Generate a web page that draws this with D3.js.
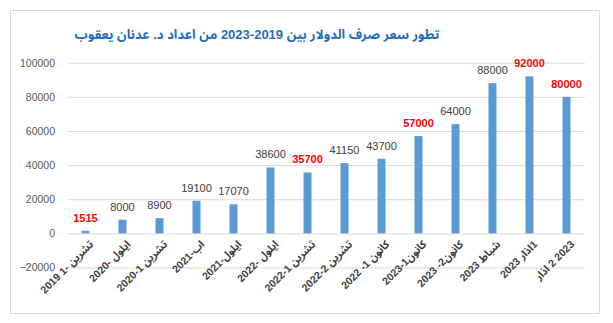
<!DOCTYPE html>
<html>
<head>
<meta charset="utf-8">
<script src="https://cdn.jsdelivr.net/npm/d3@7/dist/d3.min.js"></script>
<style>
  html, body { margin: 0; padding: 0; background: #fff; }
  svg { display: block; }
</style>
</head>
<body>
<svg id="chart" width="613" height="323"></svg>
<script>
// Dollar exchange rate by period
const categories = [
  "2019 1- تشرين",
  "2020- ايلول",
  "2020-1 تشرين",
  "2021-اب",
  "2021-ايلول",
  "2022- ايلول",
  "2022-1 تشرين",
  "2022-2 تشرين",
  "2022 -1 كانون",
  "2023-1كانون",
  "2023 -2كانون",
  "2023 شباط",
  "2023 اذار\u200E1",
  "اذار\u200E 2 2023"
];
const values = [1515, 8000, 8900, 19100, 17070, 38600, 35700, 41150, 43700, 57000, 64000, 88000, 92000, 80000];
// labels printed in red
const highlighted = [true, false, false, false, false, false, true, false, false, true, false, false, true, true];
const yTicks = [-20000, 0, 20000, 40000, 60000, 80000, 100000];
const title = "تطور سعر صرف الدولار بين 2019-2023 من اعداد د. عدنان يعقوب";

const fontStack = "'Liberation Sans', Arial, 'Noto Sans Arabic', 'Noto Naskh Arabic', 'DejaVu Sans', sans-serif";
const svg = d3.select("#chart");

// outer frame
svg.append("rect")
  .attr("x", 10.5).attr("y", 10.5)
  .attr("width", 589).attr("height", 303)
  .attr("fill", "#fff").attr("stroke", "#d9d9d9").attr("stroke-width", 1);

const x = d3.scaleBand()
  .domain(d3.range(categories.length))
  .range([67, 585])
  .paddingInner(0.784)
  .paddingOuter(0.392);

const y = d3.scaleLinear()
  .domain([-20000, 100000])
  .range([267.5, 62.7]);

// gridlines + y labels
const yAxis = d3.axisLeft(y)
  .tickValues(yTicks)
  .tickSize(-(585 - 67))
  .tickPadding(12)
  .tickFormat(d3.format("d"));

const gy = svg.append("g")
  .attr("transform", "translate(67,0)")
  .call(yAxis);
gy.select(".domain").remove();
gy.selectAll(".tick line").attr("stroke", "#d9d9d9").attr("stroke-width", 1);
gy.selectAll(".tick text")
  .attr("fill", "#595959")
  .style("font-family", fontStack)
  .style("font-size", "10.5px");

// bars
svg.append("g").selectAll("rect")
  .data(values)
  .join("rect")
  .attr("x", (d, i) => x(i))
  .attr("width", x.bandwidth())
  .attr("y", d => y(Math.max(0, d)))
  .attr("height", d => Math.abs(y(d) - y(0)))
  .attr("fill", "#5b9bd5");

// value labels
svg.append("g").selectAll("text")
  .data(values)
  .join("text")
  .attr("x", (d, i) => x(i) + x.bandwidth() / 2)
  .attr("y", d => y(d) - 9)
  .attr("text-anchor", "middle")
  .attr("fill", (d, i) => highlighted[i] ? "#ff0000" : "#404040")
  .style("font-family", fontStack)
  .style("font-size", "11px")
  .style("font-weight", (d, i) => highlighted[i] ? "bold" : "normal")
  .text(d => d);

// category labels, rotated
const xAxis = d3.axisBottom(x)
  .tickSize(0)
  .tickFormat(i => categories[i]);
const gx = svg.append("g")
  .attr("transform", `translate(0,${y(0)})`)
  .call(xAxis);
gx.select(".domain").remove();
gx.selectAll(".tick text")
  .attr("text-anchor", "end")
  .attr("transform", "translate(6,9) rotate(-45)")
  .attr("dx", 0).attr("dy", "0.35em").attr("y", 0)
  .attr("fill", "#404040")
  .style("font-family", fontStack)
  .style("font-size", "10.5px")
  .style("font-weight", "bold");

// title
svg.append("text")
  .attr("x", 257).attr("y", 39)
  .attr("text-anchor", "middle")
  .attr("fill", "#1f6dbf")
  .style("font-family", fontStack)
  .style("font-size", "13px")
  .style("font-weight", "bold")
  .text(title);
</script>
</body>
</html>
